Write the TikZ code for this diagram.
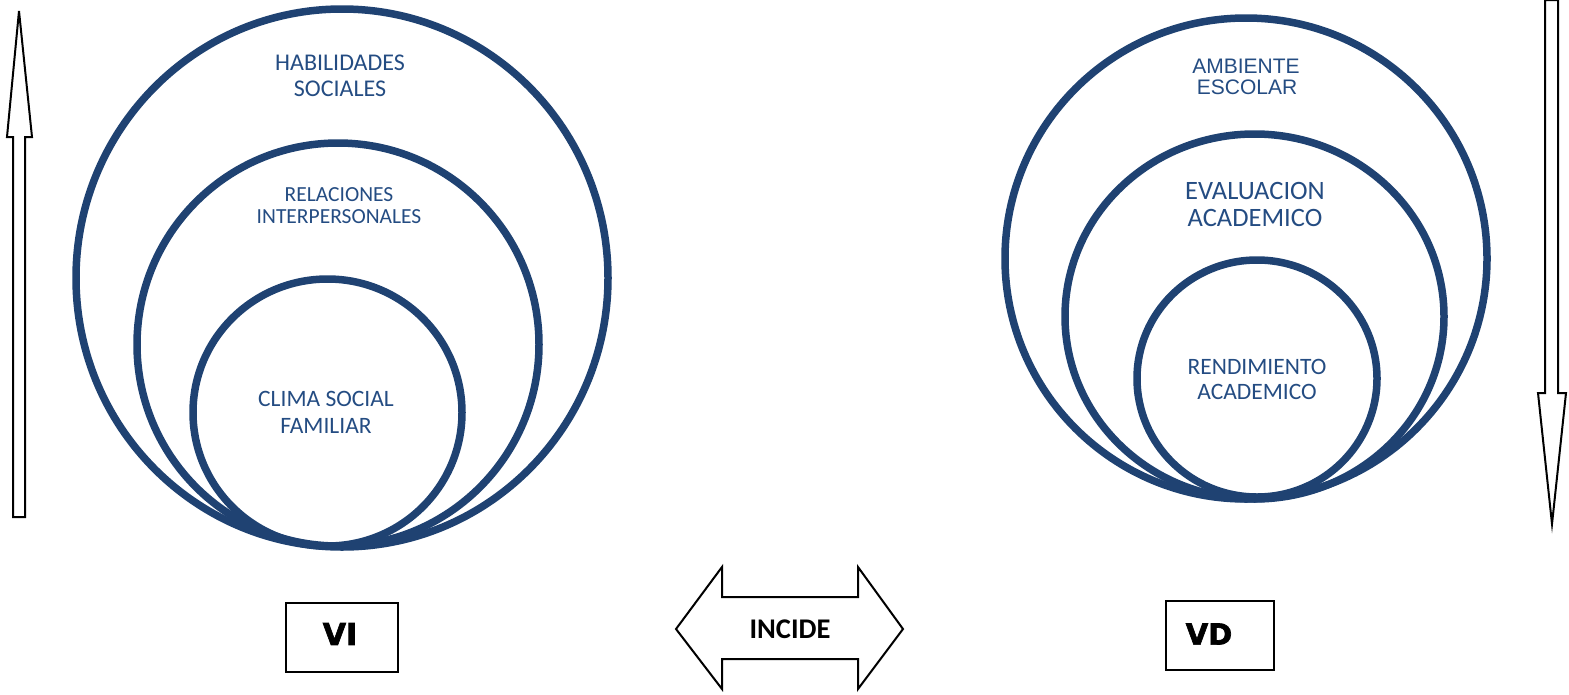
\documentclass[tikz,border=0pt]{standalone}
\usepackage{fontspec}
\setmainfont{Carlito}
\newfontfamily\arialf{Liberation Sans}
\newfontfamily\heavyf[FakeBold=2.2]{DejaVu Sans Bold}
\definecolor{ringblue}{RGB}{31,66,114}
\definecolor{textblue}{RGB}{36,76,130}
\tikzset{
  ring/.style={draw=ringblue, line width=7.5pt},
  lbl/.style={text=textblue, inner sep=0pt, anchor=center},
  blockarrow/.style={draw=black, line width=2pt, fill=white, line join=miter},
  varbox/.style={draw=black, line width=2pt, fill=white},
}
\begin{document}
\begin{tikzpicture}[x=1pt,y=-1pt]
\useasboundingbox (0,0) rectangle (1569,694);
% left rings
\draw[ring] (342,278) ellipse (266pt and 269pt);
\draw[ring] (338,344.5) ellipse (201pt and 201.5pt);
\draw[ring] (327.5,412.5) ellipse (134.5pt and 133.5pt);
% right rings
\draw[ring] (1246,258.5) ellipse (241pt and 240.5pt);
\draw[ring] (1254.5,316.5) ellipse (189.5pt and 182.5pt);
\draw[ring] (1257,378.5) ellipse (120pt and 118.5pt);
% labels left
\node[lbl, font=\fontsize{24}{28}\selectfont] (hab1) at (340,62.5) {HABILIDADES};
\node[lbl, font=\fontsize{24}{28}\selectfont] (hab2) at (340,89) {SOCIALES};
\node[lbl, font=\fontsize{21.5}{26}\selectfont] (rel1) at (339,195) {RELACIONES};
\node[lbl, font=\fontsize{21.5}{26}\selectfont] (rel2) at (339,217) {INTERPERSONALES};
\node[lbl, font=\fontsize{23.5}{28}\selectfont] (cli1) at (326,399) {CLIMA SOCIAL};
\node[lbl, font=\fontsize{23.5}{28}\selectfont] (cli2) at (326,426) {FAMILIAR};
% labels right
\node[lbl, font=\arialf\fontsize{21}{24}\selectfont] (amb1) at (1246,66) {AMBIENTE};
\node[lbl, font=\arialf\fontsize{21}{24}\selectfont] (amb2) at (1247,87) {ESCOLAR};
\node[lbl, font=\fontsize{26.5}{30}\selectfont] (eva1) at (1255,191) {EVALUACION};
\node[lbl, font=\fontsize{26.5}{30}\selectfont] (eva2) at (1255,218) {ACADEMICO};
\node[lbl, font=\fontsize{23.5}{28}\selectfont] (ren1) at (1257,367) {RENDIMIENTO};
\node[lbl, font=\fontsize{23.5}{28}\selectfont] (ren2) at (1257,392) {ACADEMICO};
% vertical arrows
\draw[blockarrow] (13,517) -- (13,137) -- (7,137) -- (19,11) -- (32,137) -- (25,137) -- (25,517) -- cycle;
\draw[blockarrow] (1545,0) -- (1545,393) -- (1538,393) -- (1552,524) -- (1566,393) -- (1558,393) -- (1558,0) -- cycle;
% incide arrow
\draw[blockarrow] (676,629) -- (722,567) -- (722,597) -- (858,597) -- (858,567) -- (903,629) -- (858,689) -- (858,659) -- (722,659) -- (722,689) -- cycle;
\node[inner sep=0pt, font=\bfseries\fontsize{28.5}{32}\selectfont] (incide) at (790,629) {INCIDE};
% boxes
\draw[varbox] (286,603) rectangle (398,672);
\node[inner sep=0pt, font=\heavyf\fontsize{30}{34}\selectfont] (vi) at (340,634) {VI};
\draw[varbox] (1166,601) rectangle (1274,670);
\node[inner sep=0pt, font=\heavyf\fontsize{29}{34}\selectfont] (vd) at (1209,634) {VD};
\end{tikzpicture}
\end{document}
